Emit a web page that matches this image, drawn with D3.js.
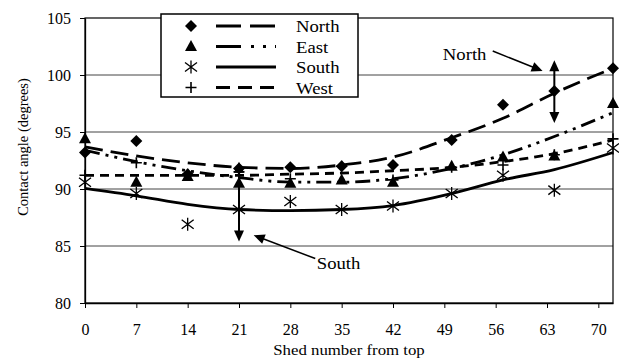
<!DOCTYPE html>
<html>
<head>
<meta charset="utf-8">
<script src="https://cdn.jsdelivr.net/npm/d3@7"></script>
<style>
  body { margin: 0; background: #fff; }
  svg text { font-family: "Liberation Serif", "DejaVu Serif", "Times New Roman", Times, serif !important; fill: #000; }
</style>
</head>
<body>
<svg id="drawing_region"></svg>
<script>
var sheds = [0, 7, 14, 21, 28, 35, 42, 50, 57, 64, 72];
var xTicks = [0, 7, 14, 21, 28, 35, 42, 49, 56, 63, 70];
var yTicks = [80, 85, 90, 95, 100, 105];

var north = [93.2, 94.2, 91.3, 91.8, 91.9, 92.0, 92.1, 94.3, 97.4, 98.6, 100.6];
var east  = [94.4, 90.6, 91.1, 90.5, 90.5, 90.8, 90.6, 92.0, 92.8, 92.9, 97.5];
var south = [90.6, 89.6, 86.9, 88.2, 88.9, 88.2, 88.5, 89.6, 91.2, 89.9, 93.6];
var west  = [91.2, 92.3, 91.3, 91.5, 90.9, 92.0, 90.8, 91.9, 92.1, 93.0, 94.4];

// trend lines
var northFit = [93.7, 92.9, 92.3, 91.9, 91.8, 92.1, 92.8, 94.5, 96.2, 98.4, 100.6];
var eastFit  = [93.4, 92.4, 91.6, 91.0, 90.6, 90.6, 90.9, 91.8, 93.0, 94.6, 96.7];
var southFit = [90.05, 89.4, 88.65, 88.2, 88.1, 88.2, 88.55, 89.6, 90.8, 91.7, 93.2];
var westFit  = [91.2, 91.2, 91.2, 91.2, 91.3, 91.4, 91.6, 91.9, 92.4, 93.1, 94.3];

var seriesNames = ['North', 'East', 'South', 'West'];

// range arrows: shed, from, to
var rangeArrows = [
  {x: 64, y1: 101.3, y2: 95.8},
  {x: 21, y1: 92.4, y2: 85.4}
];
// label arrows: text position and arrow start/tip
var labels = [
  {text: 'North', tx: 48.8, ty: 101.3, x1: 55.6, y1: 102.1, x2: 62.4, y2: 100.35},
  {text: 'South', tx: 31.6, ty: 83.0, x1: 31.4, y1: 83.9, x2: 23.0, y2: 85.95}
];

class LineChart {
  constructor(config) {
    this.config = config;
    this.init();
  }
  init() {
    let self = this;
    let c = self.config;
    self.svg = d3.select(c.parent)
      .attr('width', c.width)
      .attr('height', c.height)
      .attr('font-family', 'Liberation Serif');
    self.inner_width = c.width - c.margin.left - c.margin.right;
    self.inner_height = c.height - c.margin.top - c.margin.bottom;
    self.chart = self.svg.append('g')
      .attr('transform', `translate(${c.margin.left}, ${c.margin.top})`);

    self.x = d3.scaleLinear().domain([0, 72]).range([0, self.inner_width]);
    self.y = d3.scaleLinear().domain([80, 105]).range([self.inner_height, 0]);

    self.styles = {
      North: {dash: '18,8', symbol: 'diamond'},
      East:  {dash: '15,6,3,6,3,6', symbol: 'triangle'},
      South: {dash: null, symbol: 'star'},
      West:  {dash: '9,6', symbol: 'plus'}
    };
  }

  marker(sel, kind) {
    if (kind == 'diamond') {
      sel.append('path').attr('d', d3.symbol(d3.symbolSquare, 72)())
        .attr('transform', 'rotate(45)').attr('fill', '#000');
    } else if (kind == 'triangle') {
      sel.append('path').attr('d', 'M0,-6.5L6,4.5L-6,4.5Z').attr('fill', '#000');
    } else if (kind == 'star') {
      sel.append('path').attr('d', 'M-6,-4.5L6,4.5M-6,4.5L6,-4.5M0,-6.5L0,6.5')
        .attr('stroke', '#000').attr('stroke-width', 1.3).attr('fill', 'none');
    } else {
      sel.append('path').attr('d', 'M-5.5,0H5.5M0,-5.5V5.5')
        .attr('stroke', '#000').attr('stroke-width', 1.6).attr('fill', 'none');
    }
  }

  render() {
    let self = this;
    let x = self.x, y = self.y;

    // grid
    self.chart.selectAll('.grid')
      .data(yTicks.filter(d => d > 80 && d < 105))
      .enter().append('line')
      .attr('x1', 0).attr('x2', self.inner_width)
      .attr('y1', d => y(d)).attr('y2', d => y(d))
      .attr('stroke', '#444').attr('stroke-width', 1);
    self.chart.append('rect')
      .attr('width', self.inner_width).attr('height', self.inner_height)
      .attr('fill', 'none').attr('stroke', '#000').attr('stroke-width', 1.2);

    // axes
    let xAxis = self.chart.append('g')
      .attr('transform', `translate(0, ${self.inner_height})`)
      .call(d3.axisBottom(x).tickValues(xTicks).tickSize(5).tickSizeOuter(0).tickPadding(16));
    let yAxis = self.chart.append('g')
      .call(d3.axisLeft(y).tickValues(yTicks).tickSize(5).tickSizeOuter(0).tickPadding(9));
    [xAxis, yAxis].forEach(a => {
      a.attr('font-family', null);
      a.select('.domain').attr('stroke', '#000').attr('stroke-width', 1.3);
      a.selectAll('line').attr('stroke', '#000');
      a.selectAll('text').attr('font-size', 16);
    });

    self.svg.append('text')
      .attr('transform', `translate(${self.config.margin.left + self.inner_width / 2}, 355) scale(1.12, 1)`)
      .attr('text-anchor', 'middle').attr('font-size', 15)
      .text('Shed number from top');
    self.svg.append('text')
      .attr('transform', 'translate(28, 147) rotate(-90)')
      .attr('text-anchor', 'middle').attr('font-size', 14.5)
      .text('Contact angle (degrees)');

    // trend lines
    let fits = {North: northFit, East: eastFit, South: southFit, West: westFit};
    let line = d3.line().x(d => x(d[0])).y(d => y(d[1])).curve(d3.curveMonotoneX);
    seriesNames.forEach(name => {
      self.chart.append('path')
        .datum(sheds.map((s, i) => [s, fits[name][i]]))
        .attr('d', line)
        .attr('fill', 'none').attr('stroke', '#000').attr('stroke-width', 2.8)
        .attr('stroke-dasharray', self.styles[name].dash);
    });

    // points
    let values = {North: north, East: east, South: south, West: west};
    ['South', 'West', 'East', 'North'].forEach(name => {
      self.chart.selectAll('.p' + name)
        .data(sheds.map((s, i) => [s, values[name][i]]))
        .enter().append('g')
        .attr('transform', d => `translate(${x(d[0])}, ${y(d[1])})`)
        .each(function() { self.marker(d3.select(this), self.styles[name].symbol); });
    });

    // arrows
    let head = (g, px, py, ang) => {
      g.append('path').attr('d', 'M0,0L-11,-5L-11,5Z').attr('fill', '#000')
        .attr('transform', `translate(${px}, ${py}) rotate(${ang})`);
    };
    rangeArrows.forEach(a => {
      let g = self.chart.append('g');
      g.append('line')
        .attr('x1', x(a.x)).attr('x2', x(a.x))
        .attr('y1', y(a.y1) + 6).attr('y2', y(a.y2) - 6)
        .attr('stroke', '#000').attr('stroke-width', 2);
      head(g, x(a.x), y(a.y1), -90);
      head(g, x(a.x), y(a.y2), 90);
    });
    labels.forEach(l => {
      let g = self.chart.append('g');
      let ang = Math.atan2(y(l.y2) - y(l.y1), x(l.x2) - x(l.x1)) * 180 / Math.PI;
      g.append('line')
        .attr('x1', x(l.x1)).attr('y1', y(l.y1))
        .attr('x2', x(l.x2) - 8 * Math.cos(ang * Math.PI / 180))
        .attr('y2', y(l.y2) - 8 * Math.sin(ang * Math.PI / 180))
        .attr('stroke', '#000').attr('stroke-width', 1.5);
      head(g, x(l.x2), y(l.y2), ang);
      g.append('text')
        .attr('transform', `translate(${x(l.tx)}, ${y(l.ty)}) scale(1.1, 1)`)
        .attr('font-size', 17).text(l.text);
    });

    // legend
    let lg = self.svg.append('g').attr('transform', 'translate(161, 14)');
    lg.append('rect').attr('width', 197).attr('height', 83)
      .attr('fill', '#fff').attr('stroke', '#000').attr('stroke-width', 1.5);
    seriesNames.forEach((name, i) => {
      let row = lg.append('g').attr('transform', `translate(0, ${12 + i * 20.5})`);
      let m = row.append('g').attr('transform', 'translate(30, 0)');
      self.marker(m, self.styles[name].symbol);
      row.append('line').attr('x1', 55).attr('x2', 115)
        .attr('stroke', '#000').attr('stroke-width', 3)
        .attr('stroke-dasharray', name == 'North' ? '25,9' : name == 'East' ? '25,10,3,9,3,9' : name == 'West' ? '14,8' : null);
      row.append('text').attr('transform', 'translate(135, 6) scale(1.1, 1)')
        .attr('font-size', 17).text(name);
    });
  }
}

var config = {
  parent: '#drawing_region',
  width: 619,
  height: 363,
  margin: {top: 18, right: 6, bottom: 60, left: 85}
};
const chart = new LineChart(config);
chart.render();
</script>
</body>
</html>
